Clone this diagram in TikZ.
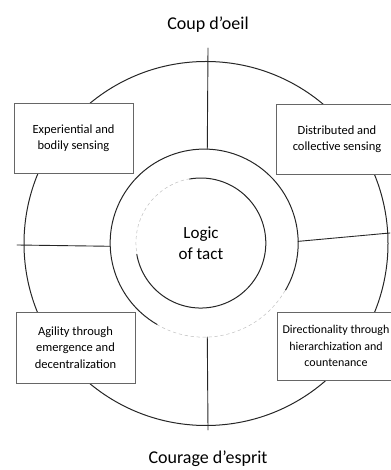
\documentclass[tikz,border=0pt]{standalone}
\usepackage{fontspec}
\setmainfont{Carlito}
\usetikzlibrary{positioning}

\begin{document}
\begin{tikzpicture}[x=1pt,y=1pt,line cap=round,
		ring/.style={line width=1pt,black!85},
		faint/.style={line width=0.5pt,black!25,dashed},
		spoke/.style={line width=0.9pt,black!85},
		field/.style={draw=black!60,line width=0.55pt,fill=white,align=center,
			minimum width=119pt,minimum height=70pt,inner sep=2pt,
			font=\fontsize{12.5}{16.5}\selectfont},
		title/.style={font=\fontsize{18}{21}\selectfont}]
		\useasboundingbox (0,0) rectangle (390,470);
		% circles
		\node[circle,draw,ring,minimum size=364pt,inner sep=0pt] (outer) at (206,226.5) {};
		\node[circle,minimum size=188pt,inner sep=0pt] (mid) at (204,227) {};
		\node[circle,minimum size=130pt,inner sep=0pt,align=center,
			font=\fontsize{17}{21}\selectfont] (core) at (201,227) {Logic\\of tact};
		\draw[ring] (mid.-30) arc[start angle=-30,end angle=240,radius=94];
		\draw[faint] (mid.240) arc[start angle=240,end angle=330,radius=94];
		\draw[ring] (core.190) arc[start angle=190,end angle=460,radius=65];
		\draw[faint] (core.100) arc[start angle=100,end angle=190,radius=65];
		% spokes
		\coordinate (n) at (208,422);
		\coordinate (s) at (208,40);
		\coordinate (w) at (17,225);
		\coordinate (e) at (390,237);
		\draw[spoke] (n) -- (mid.88);
		\draw[spoke] (mid.-88) -- (s);
		\draw[spoke] (w) -- (mid.182);
		\draw[spoke] (mid.1) -- (e);
		% boxes
		\node[field] (body) at (73.5,332) {Experiential and\\bodily sensing};
		\node[field,minimum width=122pt] (dist) at (337,331) {Distributed and\\collective sensing};
		\node[field,minimum height=71pt] (agil) at (75.5,122.5) {Agility through\\emergence and\\decentralization};
		\node[field,minimum width=118pt,minimum height=68pt,
			font=\fontsize{12}{16.5}\selectfont] (dirn) at (336,124) {Directionality through\\hierarchization and\\countenance};
		% titles
		\node[title] (coup) at (208,445) {Coup d’oeil};
		\node[title] (cour) at (208,11) {Courage d’esprit};
	\end{tikzpicture}
\end{document}
